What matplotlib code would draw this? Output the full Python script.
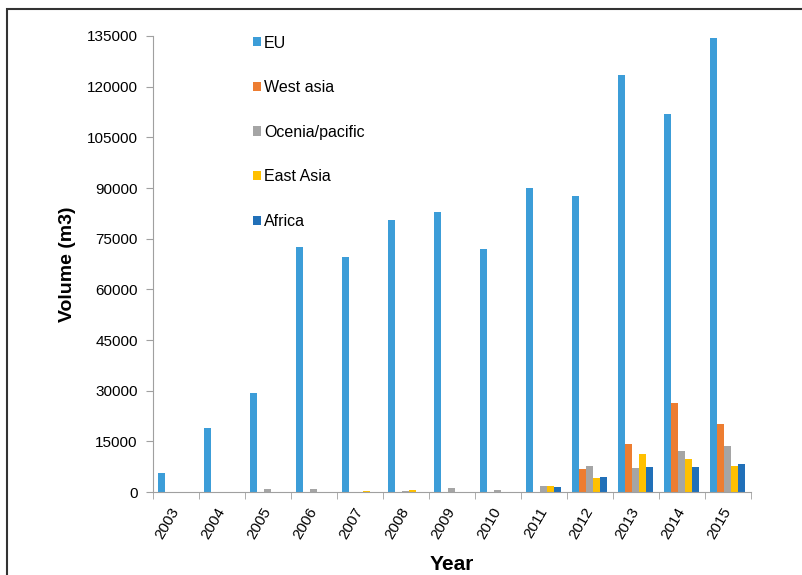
import numpy as np
import matplotlib
matplotlib.use("Agg")
from matplotlib import pyplot as plt
from matplotlib.patches import Rectangle

plt.rcParams['font.family'] = ['Liberation Sans', 'DejaVu Sans']

years = ["2003", "2004", "2005", "2006", "2007", "2008", "2009",
         "2010", "2011", "2012", "2013", "2014", "2015"]

eu = [5700, 19000, 29200, 72500, 69500, 80500, 83000,
      72000, 90000, 87500, 123500, 112000, 134500]
west_asia = [0, 0, 0, 0, 0, 0, 0, 0, 0, 6800, 14300, 26500, 20100]
oceania = [0, 0, 900, 900, 0, 300, 1200, 700, 1700, 7700, 7000, 12200, 13600]
east_asia = [0, 0, 0, 0, 300, 500, 0, 0, 1800, 4200, 11200, 9900, 7700]
africa = [0, 0, 0, 0, 0, 0, 0, 0, 1500, 4400, 7300, 7300, 8200]

series = [("EU", eu, "#3C9DD8"),
          ("West asia", west_asia, "#ED7D31"),
          ("Ocenia/pacific", oceania, "#A5A5A5"),
          ("East Asia", east_asia, "#FFC000"),
          ("Africa", africa, "#2170B8")]

fig = plt.figure(figsize=(8.03, 5.75), dpi=100)
ax = fig.add_axes([0.1905, 0.1443, 0.7447, 0.7931])

# outer frame, only top and left edges fall inside the image
fig.patches.append(Rectangle((0.009, -0.1), 1.2, 1.084, transform=fig.transFigure,
                             fill=False, edgecolor="#333333", lw=1.5))

x = np.arange(len(years))
w = 0.152
for i, (name, vals, color) in enumerate(series):
    ax.bar(x + (i - 2) * w, vals, width=w, color=color, label=name)

ax.set_xlim(-0.5, len(years) - 0.5)
ax.set_ylim(0, 135000)
ax.set_yticks(np.arange(0, 135001, 15000))
ax.set_xticks(x)
ax.set_xticklabels(years, rotation=60, ha="right", va="center",
                   rotation_mode="anchor", fontsize=11)
ax.set_xticks(np.arange(-0.5, len(years)), minor=True)
ax.tick_params(axis="x", which="major", length=0, pad=12)
ax.tick_params(axis="x", which="minor", length=5, color="#A0A0A0")
ax.tick_params(axis="y", length=5, color="#A0A0A0", labelsize=11, pad=6)

for side in ("top", "right"):
    ax.spines[side].set_visible(False)
for side in ("left", "bottom"):
    ax.spines[side].set_color("#A0A0A0")

# axis titles placed in figure coordinates
fig.text(0.563, 0.009, "Year", fontsize=15, fontweight="bold",
         ha="center", va="baseline")
fig.text(0.084, 0.54, "Volume (m3)", fontsize=14, fontweight="bold",
         rotation=90, ha="center", va="center")

ax.legend(loc="upper left", bbox_to_anchor=(0.305, 0.952), bbox_transform=fig.transFigure,
          frameon=False, fontsize=11.5, handlelength=0.5, handleheight=0.5,
          handletextpad=0.2, labelspacing=1.85, borderpad=0)

fig.savefig("out.png", dpi=100)
